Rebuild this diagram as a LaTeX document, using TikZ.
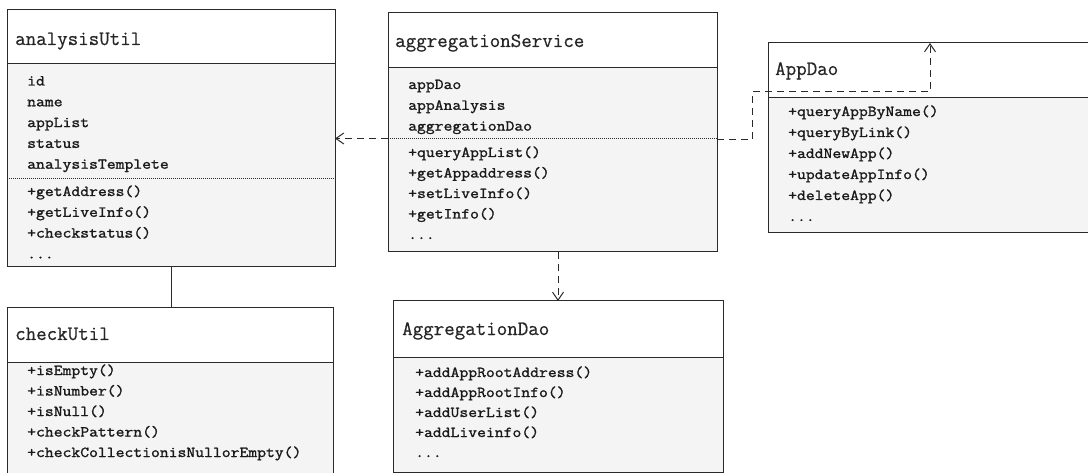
\documentclass[tikz,border=0pt]{standalone}
\usepackage{fontspec}
\newfontfamily\titlefont[FakeBold=0.6]{Latin Modern Mono}
\newfontfamily\itemfont[FakeStretch=1.13,FakeBold=1.4]{Latin Modern Mono}
\usetikzlibrary{arrows.meta}
\definecolor{bodyfill}{HTML}{F4F4F4}
\definecolor{linecol}{HTML}{2A2A2A}
\newcommand\threedots{...}
\tikzset{
 cls/.style={draw=linecol, line width=1pt, fill=bodyfill, inner sep=0pt, outer sep=0pt, rectangle},
 ttl/.style={font=\titlefont\fontsize{20.4}{24}\selectfont, inner sep=0pt, anchor=base west, text=black!85},
 itm/.style={font=\itemfont\fontsize{15.2}{20}\selectfont, inner sep=0pt, anchor=base west, text=black!90},
 dep/.style={draw=linecol, line width=1pt, dash pattern=on 7pt off 5pt, -{Straight Barb[length=8pt,width=11pt]}},
 sepline/.style={draw=linecol, line width=1pt},
 dotline/.style={draw=linecol, line width=0.8pt, dash pattern=on 1pt off 1pt},
}
% name, x1, y1, x2, y2, header bottom
\newcommand\umlbox[6]{%
 \node[cls, anchor=north west, minimum width={#4-#2}, minimum height={#5-#3}] (#1) at (#2,-#3) {};
 \fill[white] ([shift={(0.5pt,-0.5pt)}]#1.north west) rectangle ([xshift=-0.5pt]#1.east |- 0,-#6);
 \draw[sepline] (#1.west |- 0,-#6) -- (#1.east |- 0,-#6);
}
\begin{document}
\begin{tikzpicture}[x=1pt,y=1pt]
\useasboundingbox (0,0) rectangle (1088,-473);
\clip (0,0) rectangle (1088,-473);
\fill[white] (0,0) rectangle (1088,-473);

% analysisUtil
\umlbox{au}{7}{10}{335}{267}{64}
\draw[dotline] (au.west |- 0,-178) -- (au.east |- 0,-178);
\node[ttl] (au-t) at (15,-45) {analysisUtil};
\foreach \t [count=\i] in {id,name,appList,status,analysisTemplete}
  \node[itm] (au-a\i) at (27,{-85.5-20.8*(\i-1)}) {\t};
\foreach \t [count=\i] in {+getAddress(),+getLiveInfo(),+checkstatus(),\threedots}
  \node[itm] (au-m\i) at (27,{-196-20.8*(\i-1)}) {\t};

% checkUtil
\umlbox{cu}{7}{308}{333}{490}{362}
\node[ttl] (cu-t) at (15,-340) {checkUtil};
\foreach \t [count=\i] in {+isEmpty(),+isNumber(),+isNull(),+checkPattern(),+checkCollectionisNullorEmpty()}
  \node[itm] (cu-m\i) at (27,{-375-20.5*(\i-1)}) {\t};

% aggregationService
\umlbox{as}{388}{13}{717}{252}{68}
\draw[dotline] (as.west |- 0,-138) -- (as.east |- 0,-138);
\node[ttl] (as-t) at (395,-47) {aggregationService};
\foreach \t [count=\i] in {appDao,appAnalysis,aggregationDao}
  \node[itm] (as-a\i) at (408,{-89-20.8*(\i-1)}) {\t};
\foreach \t [count=\i] in {+queryAppList(),+getAppaddress(),+setLiveInfo(),+getInfo(),\threedots}
  \node[itm] (as-m\i) at (408,{-157-20.5*(\i-1)}) {\t};

% AggregationDao
\umlbox{ad}{393}{301}{723}{472}{357}
\node[ttl] (ad-t) at (402,-335) {AggregationDao};
\foreach \t [count=\i] in {+addAppRootAddress(),+addAppRootInfo(),+addUserList(),+addLiveinfo(),\threedots}
  \node[itm] (ad-m\i) at (415,{-377-20*(\i-1)}) {\t};

% AppDao
\umlbox{ap}{768}{43}{1110}{233}{98}
\node[ttl] (ap-t) at (775,-75) {AppDao};
\foreach \t [count=\i] in {+queryAppByName(),+queryByLink(),+addNewApp(),+updateAppInfo(),+deleteApp(),\threedots}
  \node[itm] (ap-m\i) at (788,{-116-21*(\i-1)}) {\t};

% connectors
\draw[sepline] (au.south) -- (au.south |- cu.north);
\draw[dep] (as.west |- au.east) -- (au.east);
\draw[dep] (as.south -| ad.north) -- (ad.north);
\coordinate (k1) at (752,-92);
\coordinate (k2) at (930,-92);
\draw[dep] ([yshift=-7.5pt]as.east) -| (k1) -- (k2) -- (k2 |- ap.north);
\end{tikzpicture}
\end{document}
